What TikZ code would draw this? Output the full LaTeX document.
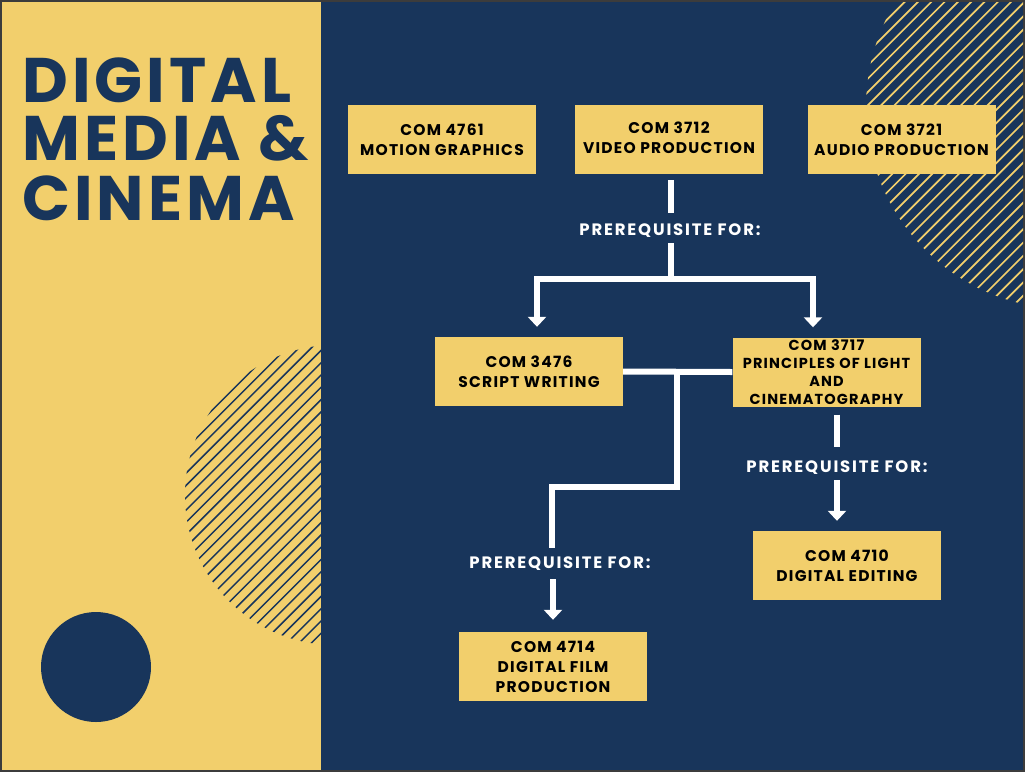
\documentclass[tikz,border=0pt]{standalone}
\usepackage{fontspec}
\setmainfont{Poppins}
\usetikzlibrary{arrows.meta}
\definecolor{navy}{HTML}{18355B}
\definecolor{mustard}{HTML}{F2CF6C}
\definecolor{frame}{HTML}{3C3C3C}

\begin{document}
\begin{tikzpicture}[x=1pt, y=-1pt,
    course/.style ={rectangle, fill=mustard, inner sep=0pt, minimum width=188pt, minimum height=69pt, align=center, text=black, font=\fontsize{15.5}{20}\selectfont\bfseries\addfontfeatures{LetterSpace=8}},
    prereq/.style ={inner sep=0pt, text=white, font=\fontsize{16.5}{18}\selectfont\bfseries\addfontfeatures{LetterSpace=11}},
    heading/.style ={anchor=base west, inner sep=0pt, text=navy, font=\fontsize{63}{59}\selectfont\bfseries\addfontfeatures{LetterSpace=6.5}},
    link/.style ={draw=white, line width=6pt},
    pointer/.style ={link, -{Triangle[width=18pt,length=10pt]}},
    hatch/.style ={line width=1.7pt}]
   \useasboundingbox (0,0) rectangle (1025,772);
   \fill[frame] (0,0) rectangle (1025,772);
   \fill[mustard] (2,2) rectangle (321,770);
   \fill[navy] (321,2) rectangle (1023,770);

   % striped half circles
   \begin{scope}
     \clip (321,2) rectangle (1023,770);
     \clip (1068,107) circle (202pt);
     \foreach \c in {880,893.3,...,1475} \draw[hatch, mustard] (\c-500,500) -- (\c,0);
   \end{scope}
   \begin{scope}
     \clip (2,2) rectangle (321,770);
     \clip (335,495) circle (150pt);
     \foreach \c in {610,622.3,...,1045} \draw[hatch, navy, line width=1.5pt] (\c-800,800) -- (\c,0);
   \end{scope}
   \fill[navy] (96,667) circle (55pt);

   \node[heading] (ttlA) at (22,102) {DIGITAL};
   \node[heading] (ttlB) at (22,160) {MEDIA \&};
   \node[heading] (ttlC) at (22,220) {CINEMA};

   \node[course] (m4761) at (442,139.5) {COM 4761\\MOTION GRAPHICS};
   \node[course] (v3712) at (669,139.5) {\raisebox{3.5pt}{COM 3712}\\\raisebox{3.5pt}{VIDEO PRODUCTION}};
   \node[course] (a3721) at (901.5,139.5) {COM 3721\\AUDIO PRODUCTION};
   \node[course] (s3476) at (529,371.5) {COM 3476\\SCRIPT WRITING};
   \node[course, font=\fontsize{14.5}{18}\selectfont\bfseries\addfontfeatures{LetterSpace=8}] (p3717) at (826.5,372) {COM 3717\\PRINCIPLES OF LIGHT\\AND\\CINEMATOGRAPHY};
   \node[course] (d4710) at (847,565.5) {COM 4710\\DIGITAL EDITING};
   \node[course] (d4714) at (553,666.5) {COM 4714\\DIGITAL FILM\\PRODUCTION};

   \node[prereq] (preA) at (670,231) {PREREQUISITE FOR:};
   \node[prereq] (preB) at (560,564) {PREREQUISITE FOR:};
   \node[prereq] (preC) at (837,468) {PREREQUISITE FOR:};

   \coordinate (jA) at (671,279);
   \coordinate (jB) at (677,373);
   \coordinate (kB) at (552,487);

   \draw[link, shorten <=6pt, shorten >=11pt] (v3712.south -| jA) -- (preA.north -| jA);
   \draw[link, shorten <=5pt] (preA.south -| jA) -- (jA);
   \draw[pointer, shorten >=10pt] (jA) -| ([xshift=8pt]s3476.north);
   \draw[pointer, shorten >=10pt] (jA) -| ([xshift=-13.5pt]p3717.north);

   \draw[link] (s3476.east) -- (p3717.west);
   \draw[link, shorten >=9pt] (jB) |- (kB) -- (kB |- preB.north);
   \draw[pointer, shorten <=8pt, shorten >=12pt] (preB.south -| d4714.north) -- (d4714.north);

   \draw[link, shorten <=8pt, shorten >=14pt] (p3717.south -| preC) -- (preC.north);
   \draw[pointer, shorten <=5pt, shorten >=10pt] (preC.south) -- (preC.south |- d4710.north);
\end{tikzpicture}
\end{document}
